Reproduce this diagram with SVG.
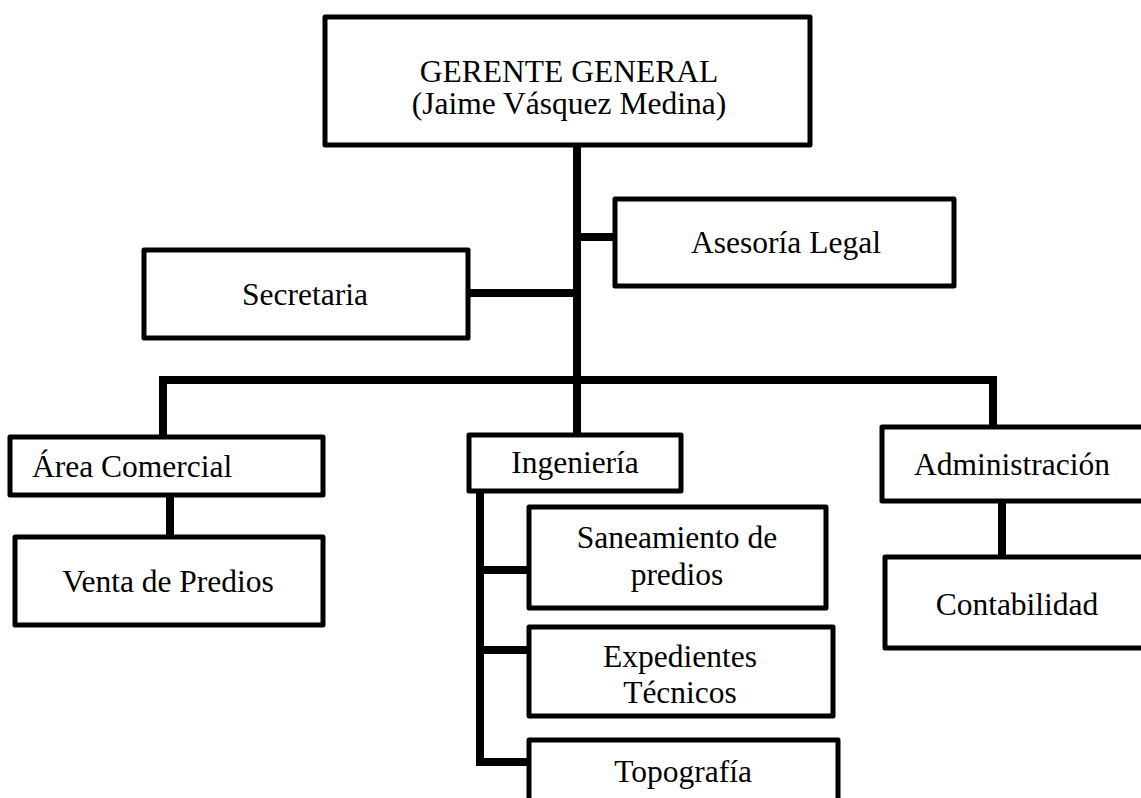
<svg xmlns="http://www.w3.org/2000/svg" width="1141" height="798" viewBox="0 0 1141 798">
<style>
.box{fill:#fff;stroke:#000;stroke-width:5;stroke-linejoin:round}
.ln{fill:none;stroke:#000;stroke-width:8;stroke-linejoin:miter;stroke-linecap:butt}
text{font-family:"Liberation Serif","Times New Roman",serif;font-size:31.5px;fill:#000}
.c{text-anchor:middle}
</style>
<rect width="1141" height="798" fill="#fff"/>
<g id="connectors">
<path class="ln" d="M577 147 V435"/>
<path class="ln" d="M577 237 H614"/>
<path class="ln" d="M469 293 H577"/>
<path class="ln" d="M163 436 V380 H993 V426"/>
<path class="ln" d="M170 496 V537"/>
<path class="ln" d="M480 492 V762 H528"/>
<path class="ln" d="M480 570 H528"/>
<path class="ln" d="M480 650 H528"/>
<path class="ln" d="M1002 501 V557"/>
</g>
<g id="gerente">
<rect class="box" x="325" y="17" width="485" height="128"/>
<text class="c" x="569" y="82">GERENTE GENERAL</text>
<text class="c" x="569" y="114">(Jaime Vásquez Medina)</text>
</g>
<g id="asesoria">
<rect class="box" x="615" y="199" width="339" height="87"/>
<text class="c" x="786" y="253">Asesoría Legal</text>
</g>
<g id="secretaria">
<rect class="box" x="144" y="250" width="324" height="88"/>
<text class="c" x="305" y="305">Secretaria</text>
</g>
<g id="area-comercial">
<rect class="box" x="10" y="437" width="313" height="58"/>
<text x="32" y="477">Área Comercial</text>
</g>
<g id="venta">
<rect class="box" x="15" y="537" width="308" height="88"/>
<text class="c" x="168" y="592">Venta de Predios</text>
</g>
<g id="ingenieria">
<rect class="box" x="469" y="435" width="212" height="56"/>
<text class="c" x="575" y="473">Ingeniería</text>
</g>
<g id="administracion">
<rect class="box" x="882" y="427" width="275" height="74"/>
<text class="c" x="1012" y="475">Administración</text>
</g>
<g id="contabilidad">
<rect class="box" x="885" y="557" width="275" height="91"/>
<text class="c" x="1017" y="615">Contabilidad</text>
</g>
<g id="saneamiento">
<rect class="box" x="529" y="507" width="297" height="101"/>
<text class="c" x="677" y="548">Saneamiento de</text>
<text class="c" x="677" y="585">predios</text>
</g>
<g id="expedientes">
<rect class="box" x="529" y="627" width="304" height="89"/>
<text class="c" x="680" y="667">Expedientes</text>
<text class="c" x="680" y="703">Técnicos</text>
</g>
<g id="topografia">
<rect class="box" x="529" y="740" width="309" height="90"/>
<text class="c" x="683" y="782">Topografía</text>
</g>
</svg>
